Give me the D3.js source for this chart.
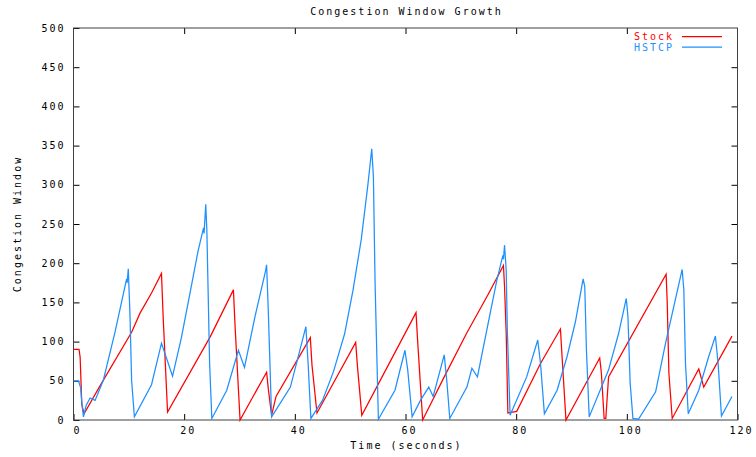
<!DOCTYPE html>
<html>
<head>
<meta charset="utf-8">
<script src="https://cdn.jsdelivr.net/npm/d3@7"></script>
<style>
  body { margin: 0; background: #fff; }
  svg { display: block; }
  text { font-family: "DejaVu Sans Mono", monospace; font-size: 10px; letter-spacing: 2px; }
</style>
</head>
<body>
<svg id="chart" width="756" height="457"></svg>
<script>
const chartTitle = "Congestion Window Growth";
const xLabel = "Time (seconds)";
const yLabel = "Congestion Window";
const seriesNames = ["Stock", "HSTCP"];
const xTicks = [0, 20, 40, 60, 80, 100, 120];
const yTicks = [0, 50, 100, 150, 200, 250, 300, 350, 400, 450, 500];

const stockT = [0, 1.0, 1.2, 1.5, 1.9, 5, 10.5, 12, 14.1, 15.9, 16.2, 17.0, 24.7, 28.9, 29.2, 30.1, 34.9, 35.2, 35.8, 36.6, 42.8, 43.1, 44.0, 51.0, 51.3, 52.1, 61.9, 62.2, 63.1, 67, 71, 75, 77.7, 77.9, 78.2, 78.5, 80.1, 84.4, 88.0, 88.3, 89.0, 95.1, 95.4, 95.9, 96.2, 96.7, 107.1, 107.3, 107.6, 108.2, 113.0, 113.9, 119.0];
const stockW = [90, 90, 80, 20, 8, 46, 112, 136, 162, 187, 132, 10, 106, 166, 120, 0, 61, 40, 6, 30, 105, 70, 9, 99, 70, 6, 137, 100, 0, 55, 110, 161, 197, 170, 110, 9, 11, 72, 116, 80, 0, 79, 60, 2, 2, 55, 186, 150, 60, 2, 65, 42, 107];

const hstcpT = [0, 0.9, 1.3, 1.5, 1.8, 2.3, 3.0, 3.9, 5.4, 7.5, 9.6, 9.7, 9.9, 10.2, 10.5, 11.0, 14.1, 15.9, 17.9, 19.5, 21.0, 22.5, 23.5, 23.6, 23.9, 24.1, 24.6, 25.0, 27.7, 29.8, 30.9, 32.8, 34.7, 34.9, 35.2, 35.8, 39.2, 42.0, 42.4, 42.9, 45, 47, 49, 50.5, 52, 53.2, 53.9, 54.2, 54.5, 55.1, 58.1, 59.9, 60.4, 61.2, 62.7, 64.2, 65.0, 67.0, 67.5, 68.0, 71.1, 72.0, 73.0, 74.7, 76.5, 77.6, 77.7, 77.9, 78.2, 78.4, 78.9, 81.9, 83.9, 84.4, 85.1, 87.4, 89.2, 90.7, 92.1, 92.4, 92.7, 93.2, 96.7, 98.5, 99.9, 100.2, 100.6, 101.1, 102.1, 105.2, 107.0, 110.0, 110.3, 110.6, 111.1, 113.0, 114.8, 116.0, 116.5, 117.1, 119.0];
const hstcpW = [50, 50, 41, 22, 4, 19, 28, 25, 51, 112, 180, 175, 193, 136, 51, 4, 45, 98, 56, 105, 160, 215, 245, 238, 275, 242, 72, 2, 38, 89, 67, 132, 190, 198, 140, 4, 42, 119, 72, 2, 25, 62, 110, 165, 230, 300, 346, 310, 175, 1, 38, 89, 64, 4, 25, 42, 30, 83, 47, 2, 42, 66, 55, 115, 178, 210, 205, 223, 191, 115, 6, 55, 102, 72, 8, 38, 81, 125, 180, 170, 89, 4, 64, 110, 155, 132, 47, 2, 1, 36, 98, 192, 166, 72, 8, 38, 81, 107, 72, 5, 30];

const colors = ["#ff0000", "#1e90ff"];

const svg = d3.select("#chart");
const L = 73.5, R = 737.5, T = 28, B = 420;

const x = d3.scaleLinear().domain([0, 120]).range([L, R]);
const y = d3.scaleLinear().domain([0, 500]).range([B, T]);

// ticks (inward, mirrored)
const tickLen = 6;
svg.append("g").attr("transform", `translate(0,${B})`)
  .call(d3.axisBottom(x).tickValues(xTicks).tickSizeInner(-tickLen).tickSizeOuter(0).tickFormat(""));
svg.append("g").attr("transform", `translate(0,${T})`)
  .call(d3.axisTop(x).tickValues(xTicks.slice(1, -1)).tickSizeInner(-tickLen).tickSizeOuter(0).tickFormat(""));
svg.append("g").attr("transform", `translate(${L},0)`)
  .call(d3.axisLeft(y).tickValues(yTicks).tickSizeInner(-tickLen).tickSizeOuter(0).tickFormat(""));
svg.append("g").attr("transform", `translate(${R},0)`)
  .call(d3.axisRight(y).tickValues(yTicks.slice(1, -1)).tickSizeInner(-tickLen).tickSizeOuter(0).tickFormat(""));
svg.selectAll(".domain").remove();
svg.selectAll(".tick line").attr("stroke", "#000").attr("stroke-width", 1);

// tick labels
svg.append("g").selectAll("text").data(xTicks).join("text")
  .attr("x", d => x(d) + 4).attr("y", B + 14)
  .attr("text-anchor", "middle").attr("fill", "#000").text(d => d);
svg.append("g").selectAll("text").data(yTicks).join("text")
  .attr("x", L - 8).attr("y", d => y(d) + 3.5)
  .attr("text-anchor", "end").attr("fill", "#000").text(d => d);

// frame
svg.append("rect").attr("x", L).attr("y", T).attr("width", R - L).attr("height", B - T)
  .attr("fill", "none").attr("stroke", "#404040").attr("stroke-width", 1);

// series
const line = d3.line().x(d => x(d[0])).y(d => y(d[1]));
const stock = stockT.map((t, i) => [t, stockW[i]]);
const hstcp = hstcpT.map((t, i) => [t, hstcpW[i]]);
[stock, hstcp].forEach((data, i) => {
  svg.append("path").datum(data).attr("d", line)
    .attr("fill", "none").attr("stroke", colors[i]).attr("stroke-width", 1.25);
});

// legend
seriesNames.forEach((name, i) => {
  const ly = 36.5 + i * 10.5;
  svg.append("text").attr("x", 674).attr("y", ly + 3.5).attr("text-anchor", "end")
    .attr("fill", colors[i]).text(name);
  svg.append("line").attr("x1", 682).attr("x2", 722).attr("y1", ly).attr("y2", ly)
    .attr("stroke", colors[i]).attr("stroke-width", 1.25);
});

// titles
svg.append("text").attr("x", (L + R) / 2 + 1).attr("y", 15).attr("text-anchor", "middle")
  .attr("fill", "#000").text(chartTitle);
svg.append("text").attr("x", (L + R) / 2 + 1).attr("y", 449).attr("text-anchor", "middle")
  .attr("fill", "#000").text(xLabel);
svg.append("text").attr("transform", `translate(21,${(T + B) / 2}) rotate(-90)`)
  .attr("text-anchor", "middle").attr("fill", "#000").text(yLabel);
</script>
</body>
</html>
